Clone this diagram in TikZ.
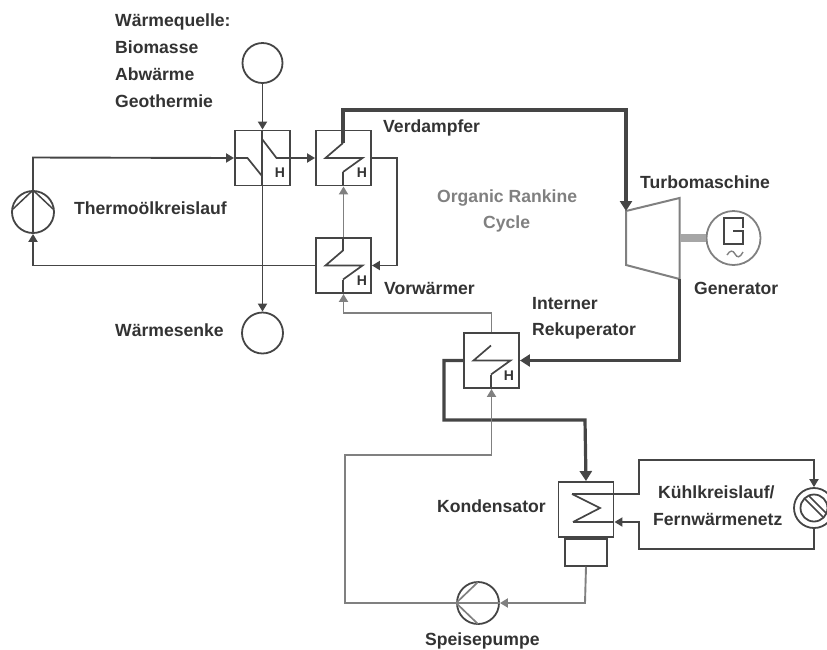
\documentclass[tikz,border=0pt]{standalone}
\usepackage{fontspec}
\setmainfont{Liberation Sans}
\usetikzlibrary{arrows.meta,calc}
\definecolor{ink}{gray}{0.27}
\definecolor{mid}{gray}{0.5}
\definecolor{txt}{gray}{0.2}
\tikzset{
  x=1pt,y=-1pt,
  wire/.style={draw=ink,line width=1.9pt},
  thin wire/.style={draw=mid,line width=1.9pt},
  thick wire/.style={draw=ink,line width=3.2pt},
  tip/.style={-{Triangle[length=8pt,width=9pt]}},
  bigtip/.style={-{Triangle[length=10pt,width=12pt]}},
  hx/.style={draw=ink,line width=1.9pt,minimum size=55pt,inner sep=0pt,fill=white},
  disc/.style={circle,draw=ink,line width=1.8pt,inner sep=0pt,minimum size=#1},
  coil/.style={draw=ink,line width=1.7pt},
  lab/.style={font=\fontsize{17.6pt}{20pt}\selectfont\bfseries,text=txt,inner sep=0pt,anchor=base west},
  hlab/.style={font=\fontsize{14pt}{14pt}\selectfont\bfseries,text=txt,inner sep=0pt},
}
\begin{document}
\begin{tikzpicture}
\useasboundingbox (0,0) rectangle (827,649);
\clip (0,0) rectangle (827,649);
% heat exchangers
\node[hx] (h1) at (262.5,158) {};
\node[hx] (h2) at (343.5,158) {};
\node[hx] (h3) at (343.5,265.5) {};
\node[hx] (h4) at (491.5,360.5) {};
\node[hx] (k1) at (586,509.5) {};
\node[draw=ink,line width=1.8pt,minimum width=42pt,minimum height=27pt,inner sep=0pt,anchor=north] (k2) at (k1.south) {};
% circles
\node[disc=40pt] (src) at (262.5,63) {};
\node[disc=41pt] (snk) at (262.5,333) {};
\node[disc=42pt] (p1) at (33,212) {};
\node[disc=42pt] (p2) at (478,603) {};
\node[disc=40pt] (cw) at (814,508) {};
\node[disc=27pt] (cwi) at (814,508) {};
\node[disc=54pt,draw=mid] (gen) at (733.5,238) {};
% turbine
\coordinate (ta) at (626,211);
\coordinate (tb) at (679.5,198);
\coordinate (tc) at (679.5,279);
\coordinate (td) at (626,265);
\coordinate (shaft) at (679.5,238);
\draw[draw=mid,line width=2pt] (ta)--(tb)--(tc)--(td)--cycle;
\draw[draw=mid!70,line width=8pt] (shaft)--(gen.west);
% generator letter
\draw[ink,line width=2pt] (743,228)--(743,218)--(724,218)--(724,244)--(743,244)--(743,231)--(733,231);
\draw[mid,line width=1.4pt] (727,255) .. controls (730,250) and (733,250) .. (735,254) .. controls (737,258) and (740,258) .. (743,252);
% pump and valve internals
\draw[ink,line width=1.5pt] ($(p1.center)+(-20,-3)$)--(p1.north)--($(p1.center)+(20,-3)$);
\draw[mid,line width=1.7pt] ($(p2.center)+(0,-21)$)--(p2.west)--($(p2.center)+(0,21)$);
\draw[mid,line width=1.7pt] (p2.west)--(p2.east);
\draw[ink,line width=1.5pt] ($(cw)+(-9,-9)$)--($(cw)+(9,9)$);
\draw[ink,line width=1.5pt] ($(cw)+(-5,-12)$)--($(cw)+(12,5)$);
% coils
\newcommand{\zigA}[1]{\draw[coil] ($(#1.center)+(-0.5,-15)$)--($(#1.center)+(-18,0)$)--($(#1.center)+(19,0)$)--($(#1.center)+(-0.5,14)$);}
\zigA{h2}\zigA{h3}\zigA{h4}
\draw[coil] ($(k1.center)+(-14,-15.5)$)--($(k1.center)+(14,-1.5)$)--($(k1.center)+(-13,12.5)$);
\draw[coil] ($(h1.center)+(-28,0)$)--($(h1.center)+(-15,0)$)--($(h1.center)+(-0.5,18)$)--($(h1.center)+(-0.5,-19)$)--($(h1.center)+(14,0)$)--($(h1.center)+(28,0)$);
\draw[coil] ($(h1.center)+(-0.5,-19)$)--($(h1.north)+(-0.5,0)$);
\draw[coil] ($(h1.center)+(-0.5,18)$)--($(h1.south)+(-0.5,0)$);
% connectors: heat source
\draw[wire,tip] (src.south)--(h1.north);
\draw[wire,tip] (h1.south)--(snk.north);
% thermal oil loop
\draw[wire,tip] (p1.south)--(p1.north)--(33,157.5)--(h1.west);
\draw[wire,tip] (h1.east)--(h2.west);
\draw[wire,tip] (h2.east)--(397,158)--(397,265.5)--(h3.east);
\draw[wire,tip] (h3.west)--(33,265.5)--(p1.south);
% ORC thick path
\coordinate (ev) at (343,143);
\draw[thick wire,bigtip] (ev)--(343,110)--(626,110)--(ta);
\draw[thick wire,bigtip] (tc)--(tc |- h4.east)--(h4.east);
\draw[thick wire,bigtip] (h4.west)--(444,360.5)--(444,420)--(585,420)--(k1.north);
% gray ORC paths
\draw[thin wire,tip] (h3.north)--(h2.south);
\draw[coil] ($(h2.center)+(-0.5,14)$)--($(h2.south)+(-0.5,0)$);
\draw[coil] ($(h3.center)+(-0.5,14)$)--($(h3.south)+(-0.5,0)$);
\draw[coil] ($(h3.center)+(-0.5,-15)$)--($(h3.north)+(-0.5,0)$);
\draw[thin wire,tip] (h4.north)--(491.5,313)--(343.5,313)--(h3.south);
\draw[coil] ($(h4.center)+(-0.5,14)$)--($(h4.south)+(-0.5,0)$);
\draw[thin wire,tip] (p2.west)--(345,603)--(345,455)--(491.5,455)--(h4.south);
\draw[thin wire,tip] (k2.south)--(585,603)--(p2.east);
% cooling
\draw[wire,tip] ($(k1.center)+(-14,-15.5)$)--(639,494)--(639,460)--(814,460)--(cw.north);
\draw[wire,tip] (cw.south)--(814,549)--(639,549)--(639,522)--(k1.east |- 639,522);
\draw[wire] (614,522)--($(k1.center)+(-13,12.5)$);
% H labels
\node[hlab] at (280,173) {H};
\node[hlab] at (362,173) {H};
\node[hlab] at (362,281) {H};
\node[hlab] at (509,376) {H};
% labels
\node[lab] at (115,26) {Wärmequelle:};
\node[lab] at (115,53) {Biomasse};
\node[lab] at (115,80) {Abwärme};
\node[lab] at (115,107) {Geothermie};
\node[lab] at (74,214) {Thermoölkreislauf};
\node[lab] at (115,336) {Wärmesenke};
\node[lab] at (383,132) {Verdampfer};
\node[lab] at (384,294) {Vorwärmer};
\node[lab,text=mid] at (437,202) {Organic Rankine};
\node[lab,text=mid] at (483,228) {Cycle};
\node[lab] at (640,188) {Turbomaschine};
\node[lab] at (694,294) {Generator};
\node[lab] at (532,309) {Interner};
\node[lab] at (532,335) {Rekuperator};
\node[lab] at (437,512) {Kondensator};
\node[lab] at (658,498) {Kühlkreislauf/};
\node[lab] at (653,525) {Fernwärmenetz};
\node[lab] at (425,645) {Speisepumpe};
\end{tikzpicture}
\end{document}
